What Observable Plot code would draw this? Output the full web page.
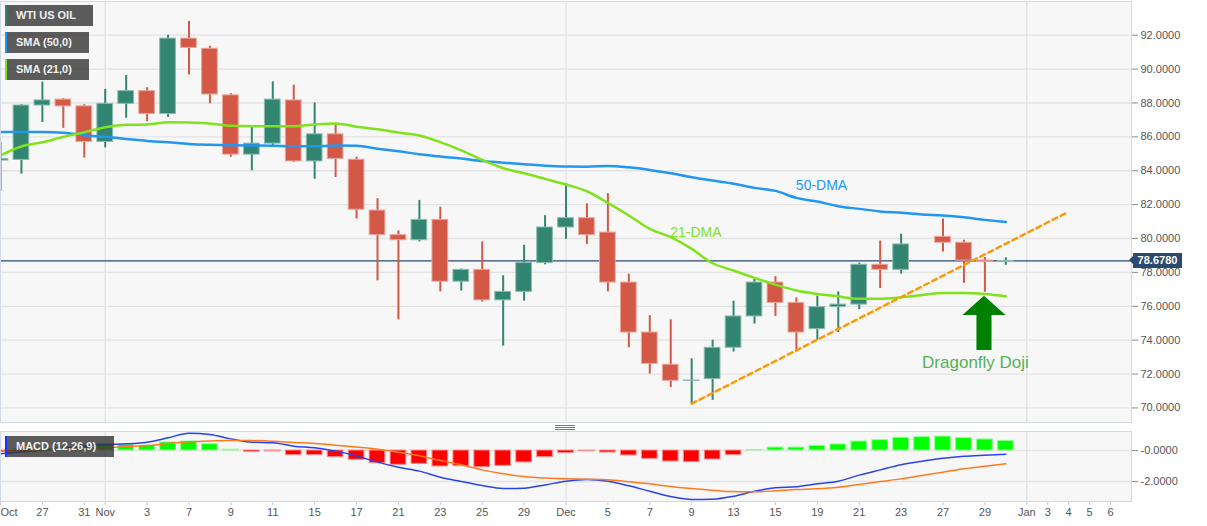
<!DOCTYPE html>
<html><head><meta charset="utf-8">
<script src="https://cdn.jsdelivr.net/npm/d3@7"></script>
<script src="https://cdn.jsdelivr.net/npm/@observablehq/plot@0.6"></script>
<style>
body{margin:0;background:#fff;font-family:"Liberation Sans",Arial,sans-serif;}
#wrap{position:relative;width:1207px;height:526px;overflow:hidden;background:#fff;}
#wrap svg{position:absolute;left:0;}
.leg{position:absolute;left:5px;height:21px;background:rgba(51,51,51,0.8);color:#f0f0f0;font-size:11px;font-weight:bold;line-height:21px;padding-left:9px;box-sizing:border-box;border-left:2px solid;white-space:nowrap;}
.tag{position:absolute;left:1133px;width:49px;height:15px;background:#2b4a70;color:#fff;font-size:11px;font-weight:bold;line-height:15px;text-align:center;}
.tag:before{content:"";position:absolute;left:-4px;top:3.5px;border-top:4px solid transparent;border-bottom:4px solid transparent;border-right:4px solid #2b4a70;}
.sep{position:absolute;left:555px;width:20px;height:1px;background:#777;}
</style></head><body><div id="wrap"></div>
<script>
// ---- data (trading-day index 0 = Oct 25, 2022) ----
const days = ["Oct 25","Oct 26","Oct 27","Oct 28","Oct 31","Nov 1","Nov 2","Nov 3","Nov 4","Nov 7","Nov 8","Nov 9","Nov 10","Nov 11","Nov 14","Nov 15","Nov 16","Nov 17","Nov 18","Nov 21","Nov 22","Nov 23","Nov 24","Nov 25","Nov 28","Nov 29","Nov 30","Dec 1","Dec 2","Dec 5","Dec 6","Dec 7","Dec 8","Dec 9","Dec 12","Dec 13","Dec 14","Dec 15","Dec 16","Dec 19","Dec 20","Dec 21","Dec 22","Dec 23","Dec 26","Dec 27","Dec 28","Dec 29","Dec 30"];
const opens  = [84.6,84.64,87.85,88.2,87.8,85.7,87.95,88.7,87.35,91.8,91.2,88.45,84.95,85.6,88.15,84.55,86.15,84.65,81.65,80.2,79.9,81.1,77.45,78.15,76.35,76.85,78.55,80.65,81.2,80.35,77.4,74.45,72.55,71.6,71.7,73.55,75.4,77.4,76.2,74.65,75.95,76.1,78.45,78.15,79.33,80.1,79.75,78.7,78.62];
const highs  = [85.67,87.9,89.23,88.25,87.9,88.8,89.62,88.9,92.0,92.81,91.35,88.55,86.6,89.25,89.05,88.0,86.75,84.8,82.35,80.45,82.25,81.85,78.2,79.8,77.8,79.6,81.35,83.25,82.05,82.65,77.9,75.45,75.2,72.9,74.0,76.3,77.6,77.75,76.5,76.6,76.85,78.55,79.85,80.25,79.33,81.15,79.9,78.88,78.86];
const lows   = [82.77,83.8,86.85,86.5,84.75,85.35,87.1,86.9,87.15,89.65,87.95,84.8,84.0,85.4,84.5,83.5,83.6,81.15,77.5,75.2,79.8,76.85,76.9,76.25,73.65,76.3,78.45,79.95,79.65,76.85,73.55,72.0,71.2,70.25,70.45,73.3,74.95,75.4,73.4,74.0,74.45,75.8,77.05,77.9,79.33,79.2,77.35,76.83,78.42];
const closes = [84.7,87.85,88.15,87.8,85.7,87.95,88.7,87.35,91.8,91.25,88.5,84.95,85.6,88.2,84.55,86.15,84.7,81.7,80.2,79.9,81.1,77.45,78.15,76.35,76.85,78.55,80.65,81.2,80.2,77.4,74.45,72.6,71.6,71.62,73.55,75.4,77.4,76.2,74.45,75.95,76.1,78.45,78.15,79.65,79.33,79.75,78.7,78.62,78.678];
const sma50  = [86.28,86.28,86.28,86.25,86.1,86.0,85.88,85.76,85.68,85.58,85.53,85.5,85.49,85.47,85.44,85.44,85.49,85.47,85.3,85.15,84.98,84.84,84.72,84.57,84.47,84.39,84.3,84.25,84.24,84.28,84.2,84.05,83.85,83.62,83.42,83.23,82.99,82.81,82.4,82.18,81.91,81.75,81.6,81.52,81.42,81.36,81.25,81.1,80.97];
const sma21  = [84.9,85.43,85.68,86.0,86.27,86.57,86.71,86.73,86.87,86.85,86.79,86.65,86.63,86.63,86.63,86.73,86.79,86.6,86.45,86.26,86.08,85.69,85.2,84.64,84.15,83.85,83.52,83.19,82.79,82.1,81.36,80.57,80.08,79.39,78.54,78.11,77.68,77.28,76.93,76.73,76.58,76.44,76.44,76.53,76.67,76.79,76.79,76.73,76.59];
const macdLine   = [-0.21,-0.1,0.02,0.15,0.28,0.38,0.43,0.54,0.82,1.12,1.03,0.75,0.54,0.5,0.28,0.17,-0.04,-0.35,-0.75,-1.08,-1.33,-1.72,-2.0,-2.26,-2.45,-2.43,-2.22,-1.98,-1.87,-1.98,-2.28,-2.63,-2.97,-3.16,-3.14,-2.95,-2.63,-2.41,-2.34,-2.15,-1.98,-1.59,-1.25,-0.92,-0.69,-0.5,-0.37,-0.3,-0.24];
const signalLine = [-0.05,0.0,0.04,0.08,0.13,0.18,0.24,0.32,0.45,0.56,0.62,0.65,0.64,0.6,0.52,0.45,0.34,0.22,0.08,-0.11,-0.34,-0.65,-0.92,-1.25,-1.5,-1.68,-1.78,-1.83,-1.85,-1.89,-2.02,-2.15,-2.32,-2.45,-2.56,-2.65,-2.66,-2.6,-2.52,-2.47,-2.37,-2.19,-2.0,-1.83,-1.61,-1.4,-1.18,-1.01,-0.86];
const histogram  = [-0.1,0.1,0.15,0.2,0.3,0.43,0.37,0.3,0.52,0.58,0.41,0.05,-0.1,-0.05,-0.3,-0.3,-0.43,-0.6,-0.82,-0.92,-0.86,-1.03,-1.01,-1.08,-0.99,-0.77,-0.43,-0.17,-0.05,-0.13,-0.32,-0.54,-0.71,-0.75,-0.58,-0.3,0.03,0.19,0.19,0.3,0.39,0.58,0.67,0.82,0.86,0.9,0.8,0.71,0.62];
const lastPrice = 78.678;

const xTickIdx  = [0,2,4,5,7,9,11,13,15,17,19,21,23,25,27,29,31,33,35,37,39,41,43,45,47,49,50,51,52,53];
const xTickText = ["Oct","27","31","Nov","3","7","9","11","15","17","21","23","25","29","Dec","5","7","9","13","15","19","21","23","27","29","Jan","3","4","5","6"];
const monthIdx  = [5,27,49];
const priceTicks = [70,72,74,76,78,80,82,84,86,88,90,92];
const macdTicks  = [0,-2];

// annotations
const trendline  = [{i:33,v:70.25},{i:50.95,v:81.55}];
const arrowHead  = [{i:45.95,lo:75.45,hi:75.45},{i:46.98,lo:75.45,hi:76.59},{i:48.01,lo:75.45,hi:75.45}];
const arrowShaft = [{x1:46.62,x2:47.34,y1:73.39,y2:75.5}];
const noteSma50  = [{i:39.2,v:83.13,text:"50-DMA"}];
const noteSma21  = [{i:33.2,v:80.35,text:"21-DMA"}];
const noteDoji   = [{i:46.55,v:72.68,text:"Dragonfly Doji"}];

// ---- drawing ----
const FONT = '"Liberation Sans", Arial, sans-serif';
const GREEN = "#328571", RED = "#d35846", LIME = "#80e21c", BLUE = "#2196f3";
const candles = days.map((d,i)=>({i, date:d, o:opens[i], h:highs[i], l:lows[i], c:closes[i], s50:sma50[i], s21:sma21[i]}));
const macdRows = days.map((d,i)=>({i, m:macdLine[i], s:signalLine[i], h:histogram[i]}));
const cColor = d => d.c > d.o ? GREEN : d.c < d.o ? RED : "#222";
const cEdge  = d => d.c > d.o ? "#8cbcae" : d.c < d.o ? "#eca69c" : "#222";
const X = {domain:[0,54], axis:null, label:null};
const HW = 0.375;

const main = Plot.plot({
  width:1207, height:423, marginLeft:0, marginRight:76, marginTop:1, marginBottom:1,
  x: X,
  y: {domain:[69.14,93.99], axis:null, label:null},
  style:{fontFamily:FONT, fontSize:"11px", background:"transparent"},
  marks:[
    Plot.frame({fill:"#f7f7f7"}),
    Plot.gridY(priceTicks, {stroke:"#e3e3e3", strokeOpacity:1, strokeWidth:1.3}),
    Plot.ruleX(monthIdx, {stroke:"#e3e3e3", strokeWidth:1.3}),
    Plot.ruleY([lastPrice], {stroke:"#2b4a70", strokeWidth:1.3}),
    Plot.ruleX(candles, {x:"i", y1:"l", y2:"h", stroke:cColor, strokeWidth:2}),
    Plot.rect(candles, {x1:d=>d.i-HW, x2:d=>d.i+HW, y1:"o", y2:"c", fill:cColor, stroke:cEdge, strokeWidth:1}),
    Plot.line(candles, {x:"i", y:"s50", stroke:BLUE, strokeWidth:2.5, curve:"monotone-x"}),
    Plot.line(candles, {x:"i", y:"s21", stroke:LIME, strokeWidth:2.5, curve:"monotone-x"}),
    Plot.line(trendline, {x:"i", y:"v", stroke:"#ff9800", strokeWidth:2.5, strokeDasharray:"5,4"}),
    Plot.areaY(arrowHead, {x:"i", y1:"lo", y2:"hi", fill:"#008000"}),
    Plot.rect(arrowShaft, {x1:"x1", x2:"x2", y1:"y1", y2:"y2", fill:"#008000"}),
    Plot.text(noteSma50, {x:"i", y:"v", text:"text", fill:BLUE, fontSize:14}),
    Plot.text(noteSma21, {x:"i", y:"v", text:"text", fill:LIME, fontSize:14}),
    Plot.text(noteDoji, {x:"i", y:"v", text:"text", fill:"#55b155", fontSize:17}),
    Plot.axisY(priceTicks, {anchor:"right", label:null, tickSize:6, tickPadding:3, tickFormat:d=>d.toFixed(4), stroke:"#8a8a8a", fill:"#555", fontSize:11}),
    Plot.frame({stroke:"#d2d8e6"})
  ]
});
main.style.top = "0px";

const macd = Plot.plot({
  width:1207, height:96, marginLeft:0, marginRight:76, marginTop:1, marginBottom:25,
  x: X,
  y: {domain:[-3.29,1.226], axis:null, label:null},
  style:{fontFamily:FONT, fontSize:"11px", background:"transparent"},
  marks:[
    Plot.frame({fill:"#f7f7f7"}),
    Plot.gridY(macdTicks, {stroke:"#e3e3e3", strokeOpacity:1, strokeWidth:1.3}),
    Plot.ruleX(monthIdx, {stroke:"#e3e3e3", strokeWidth:1.3}),
    Plot.rect(macdRows, {x1:d=>d.i-HW, x2:d=>d.i+HW, y1:0, y2:"h",
      fill:d=>d.h>=0?"#00ff00":"#ff0000", stroke:d=>d.h>=0?"#8dff8d":"#ff9090", strokeWidth:1}),
    Plot.line(macdRows, {x:"i", y:"m", stroke:"#2743f2", strokeWidth:1.5, curve:"monotone-x"}),
    Plot.line(macdRows, {x:"i", y:"s", stroke:"#ff7a1c", strokeWidth:1.5, curve:"monotone-x"}),
    Plot.axisY(macdTicks, {anchor:"right", label:null, tickSize:6, tickPadding:3, tickFormat:d=>(d===0?"-0.0000":d.toFixed(4)), stroke:"#8a8a8a", fill:"#555", fontSize:11}),
    Plot.axisX(xTickIdx.slice(1), {anchor:"bottom", label:null, tickSize:4, tickPadding:3, tickFormat:i=>xTickText[xTickIdx.indexOf(i)], stroke:"#c3cadd", fill:"#555", fontSize:11}),
    Plot.axisX(xTickIdx.slice(0,1), {anchor:"bottom", label:null, tickSize:4, tickPadding:3, tickFormat:i=>xTickText[xTickIdx.indexOf(i)], textAnchor:"start", stroke:"#c3cadd", fill:"#555", fontSize:11}),
    Plot.frame({stroke:"#d2d8e6"})
  ]
});
macd.style.top = "430px";

const wrap = document.getElementById("wrap");
wrap.appendChild(main);
wrap.appendChild(macd);

function addLegend(text, top, color, width){
  const el = document.createElement("div");
  el.className = "leg";
  el.style.top = top + "px";
  el.style.width = width + "px";
  el.style.borderLeftColor = color;
  el.textContent = text;
  wrap.appendChild(el);
}
addLegend("WTI US OIL", 5, GREEN, 88);
addLegend("SMA (50,0)", 32, BLUE, 84);
addLegend("SMA (21,0)", 59, LIME, 84);
addLegend("MACD (12,26,9)", 436, "#1a33ff", 109);

const tag = document.createElement("div");
tag.className = "tag";
tag.textContent = lastPrice.toFixed(4);
tag.style.top = (main.scale("y").apply(lastPrice) - 7.5) + "px";
wrap.appendChild(tag);

[425,427,429].forEach(t=>{
  const s = document.createElement("div");
  s.className = "sep"; s.style.top = t + "px"; wrap.appendChild(s);
});
</script>
</body></html>
